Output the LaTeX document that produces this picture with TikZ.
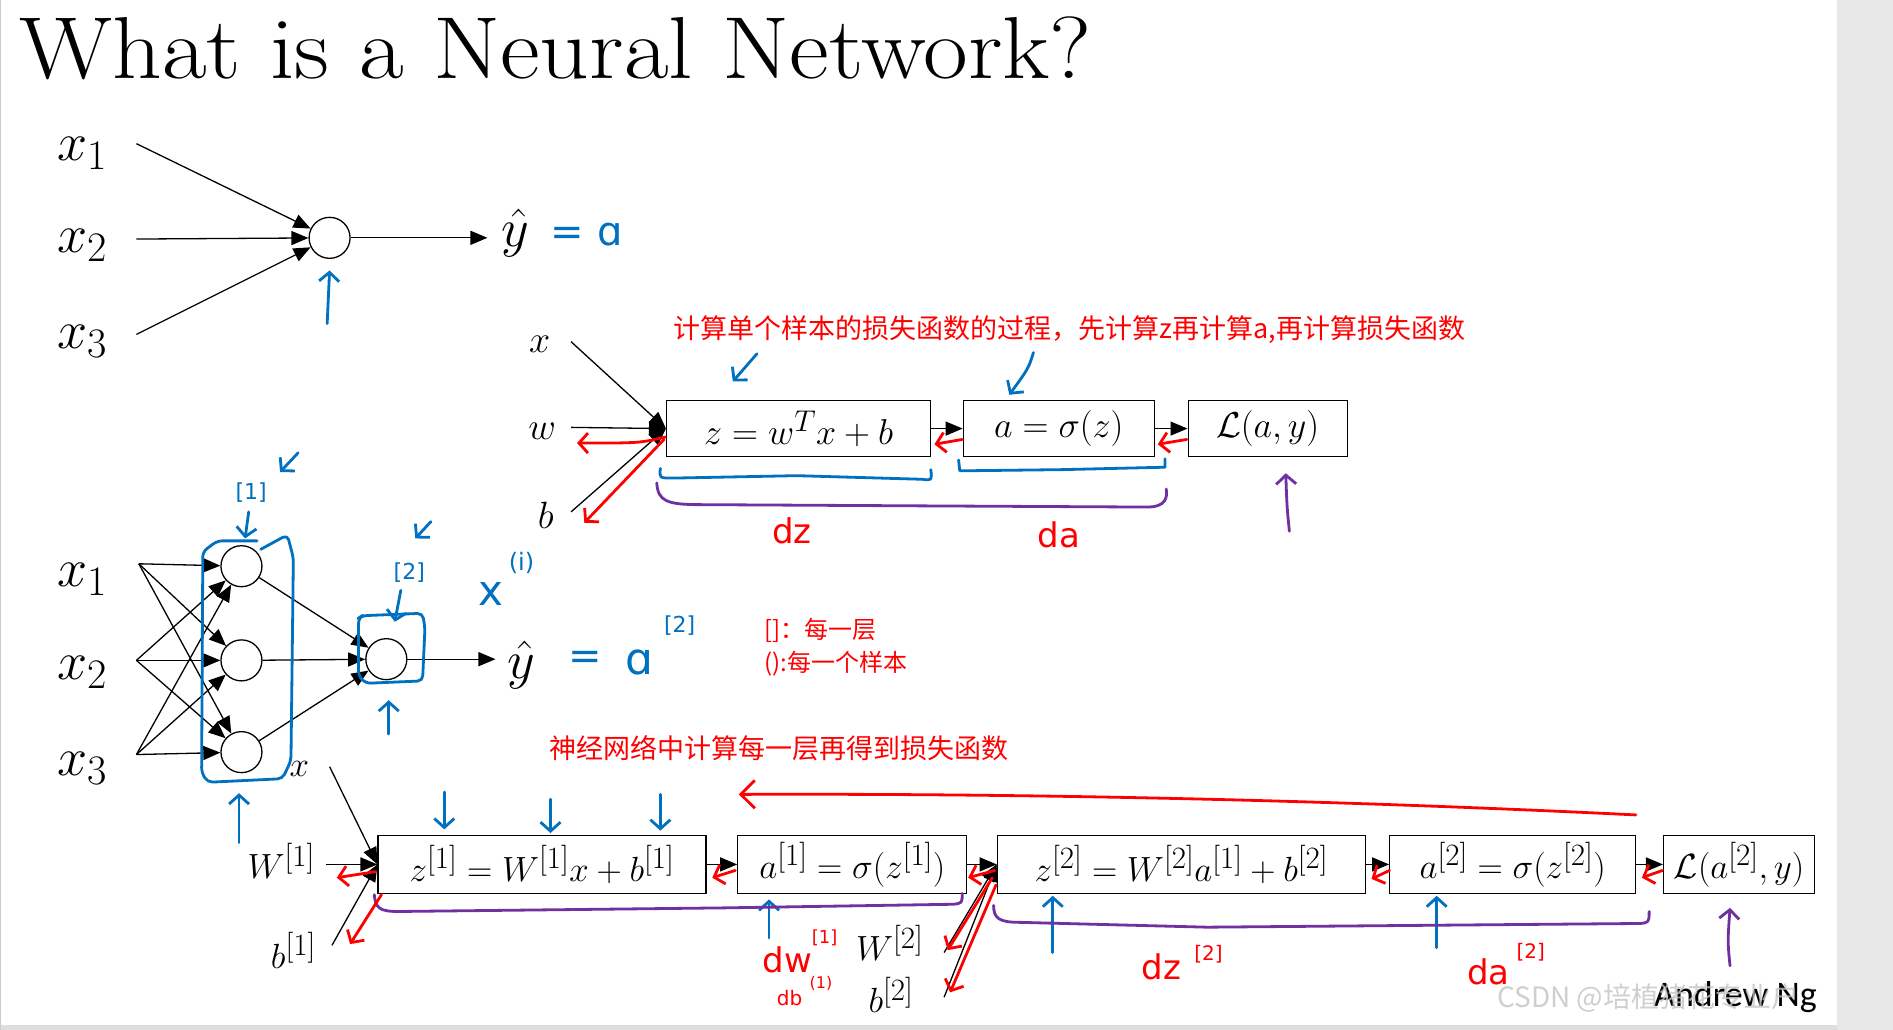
\RequirePackage{fix-cm}
\documentclass[tikz,border=0pt]{standalone}
\usepackage{amsmath}
\usepackage{graphicx}
\usepackage{fontspec}
\usetikzlibrary{arrows.meta}
\newfontfamily\cjk{Noto Sans CJK SC}
\newfontfamily\carl{Carlito}
\newfontfamily\hand{DejaVu Sans}
\definecolor{inkblue}{HTML}{0070C0}
\definecolor{inkred}{HTML}{FF0000}
\definecolor{inkpurple}{HTML}{7030A0}
\definecolor{wmgrey}{HTML}{C4C4C4}
\newcommand{\fsz}[1]{\fontsize{#1}{#1}\selectfont}
\newcommand{\lay}[1]{^{\mbox{\fsz{31}[#1]}}}
\newcommand{\sbx}[1]{_{\mbox{\fsz{42}#1}}}
\tikzset{
  neuron/.style={circle, draw, line width=1.3pt, minimum size=41pt, inner sep=0pt},
  fbox/.style={draw, line width=1.3pt, minimum height=56pt, inner sep=0pt, font=\fsz{36}},
  gbox/.style={draw, line width=1.3pt, minimum height=58pt, inner sep=0pt, font=\fsz{35}},
  arr/.style={-{Triangle[length=17pt,width=14pt]}, line width=1.3pt},
  ink/.style={line width=2.8pt, line cap=round, line join=round},
  hd/.style={-{Straight Barb[length=9pt,width=20pt]}},
  bighd/.style={-{Straight Barb[length=14pt,width=28pt]}},
  lab/.style={inner sep=0pt, font=\fsz{54}},
  slab/.style={inner sep=0pt, font=\fsz{38}},
  clab/.style={inner sep=0pt, font=\fsz{35}},
  redtxt/.style={inner sep=0pt, text=inkred, font=\cjk\fsz{27}},
  handb/.style={inner sep=0pt, text=inkblue, font=\hand\fsz{34}},
  handr/.style={inner sep=0pt, text=inkred, font=\hand\fsz{34}},
}
\begin{document}
\begin{tikzpicture}[x=1.2073pt, y=-1.2073pt]
\useasboundingbox (0,0) rectangle (1568,853);
\fill[white] (0,0) rectangle (1568,853);
% page margins
\fill[black!9] (1522,0) rectangle (1568,853);
\fill[black!13] (0,849) rectangle (1522,853);
\fill[black!20] (0,0) rectangle (1.2,853);

% title
\node[anchor=base west, inner sep=0pt, font=\fsz{88}] (title) at (16,65) {\scalebox{1.105}[1]{What is a Neural Network?}};

% ---------- top single neuron ----------
\node[lab] (tx1) at (68,127) {$x\sbx{1}$};
\node[lab] (tx2) at (68,203) {$x\sbx{2}$};
\node[lab] (tx3) at (68,283) {$x\sbx{3}$};
\coordinate (ts1) at (113,119);
\coordinate (ts2) at (113,198);
\coordinate (ts3) at (113,277);
\node[neuron] (tn) at (273,197) {};
\draw[arr] (ts1) -- (tn);
\draw[arr] (ts2) -- (tn);
\draw[arr] (ts3) -- (tn);
\node[lab] (tyhat) at (427,193) {$\hat{y}$};
\draw[arr, shorten >=14pt] (tn) -- (tyhat.west |- tn);
\node[handb, font=\hand\fsz{40}] (teq) at (486,194) {= ɑ};
\draw[ink, inkblue, hd] (271,268) -- (273,224);

% ---------- logistic regression chain ----------
\node[slab] (lx) at (447,285) {$x$};
\node[slab] (lw) at (449,357) {$w$};
\node[slab] (lb) at (452,427) {$b$};
\coordinate (lxs) at (473,283);
\coordinate (lws) at (473,354);
\coordinate (lbs) at (473,424);
\node[fbox, minimum width=264pt] (lz) at (661.5,355) {$z = w^{\mbox{\fsz{30}$T$}}x + b$};
\node[fbox, minimum width=191pt] (la) at (877,355) {$a = \sigma(z)$};
\node[fbox, minimum width=159pt] (lL) at (1050,355) {$\mathcal{L}(a,y)$};
\draw[arr] (lxs) -- (lz.west);
\draw[arr] (lws) -- (lz.west);
\draw[arr] (lbs) -- (lz.west);
\draw[arr] (lz) -- (la);
\draw[arr] (la) -- (lL);
\node[redtxt] (note1) at (886,273) {计算单个样本的损失函数的过程，先计算z再计算a,再计算损失函数};
% blue marks
\draw[ink, inkblue, hd] (627,293) -- (607,316);
\draw[ink, inkblue, hd] (856,292) .. controls (852,305) .. (836,327);
\draw[ink, inkblue] (547,388) .. controls (546,396) .. (558,396) -- (660,394) -- (764,397) .. controls (772,398) .. (771,389);
\draw[ink, inkblue] (794,381) -- (795,390) -- (880,389) -- (965,387) -- (965,380);
% purple brace
\draw[ink, inkpurple] (544,400) .. controls (545,415) and (552,418) .. (580,418) -- (760,419) -- (950,420) .. controls (966,420) and (967,412) .. (966,405);
\draw[ink, inkpurple, hd] (1068,440) .. controls (1066,420) .. (1065,392);
\node[handr] (ldz) at (656,440) {dz};
\node[handr] (lda) at (877,443) {da};
% red backward arrows
\draw[ink, inkred, hd] (551,362) .. controls (530,367) .. (478,367);
\draw[ink, inkred, hd] (550,364) -- (484,433);
\draw[ink, inkred, hd] (797,364) -- (774,368);
\draw[ink, inkred, hd] (983,364) -- (959,368);

% ---------- two layer network ----------
\node[lab] (bx1) at (68,480) {$x\sbx{1}$};
\node[lab] (bx2) at (68,557) {$x\sbx{2}$};
\node[lab] (bx3) at (68,637) {$x\sbx{3}$};
\coordinate (bs1) at (115,467);
\coordinate (bs2) at (113,547);
\coordinate (bs3) at (113,625);
\node[neuron] (h1) at (200,469) {};
\node[neuron] (h2) at (200,547) {};
\node[neuron] (h3) at (200,623) {};
\node[neuron] (on) at (320,546) {};
\foreach \s in {bs1,bs2,bs3}{
  \foreach \h in {h1,h2,h3}{
    \draw[arr] (\s) -- (\h);
  }
}
\foreach \h in {h1,h2,h3}{ \draw[arr] (\h) -- (on); }
\node[lab] (byhat) at (432,551) {$\hat{y}$};
\draw[arr, shorten >=12pt] (on) -- (byhat.west |- on);
\node[handb, font=\hand\fsz{40}] (beq) at (485,547) {=};
\node[handb, font=\hand\fsz{44}] (ba) at (530,549) {ɑ};
\node[handb, font=\hand\fsz{22}] (ba2) at (563,518) {[2]};
% blue boxes and marks
\draw[ink, inkblue, rounded corners=5pt] (213,448) -- (180,448) -- (168,457) -- (167,640) -- (172,648) -- (234,645) -- (241,630) -- (243,462) -- (238,443) -- (216,455);
\draw[ink, inkblue, rounded corners=5pt] (297,512) -- (297,560) -- (303,566) -- (350,564) -- (352,520) -- (350,508) -- (300,510) -- cycle;
\node[handb, font=\hand\fsz{22}] (l1) at (208,408) {[1]};
\draw[ink, inkblue, hd] (206,424) -- (203,446);
\draw[ink, inkblue, hd] (247,375) -- (232,391);
\node[handb, font=\hand\fsz{22}] (l2) at (339,474) {[2]};
\draw[ink, inkblue, hd] (357,432) -- (344,446);
\draw[ink, inkblue, hd] (332,489) -- (327,515);
\node[handb, font=\hand\fsz{42}] (bxi) at (407,492) {x};
\node[handb, font=\hand\fsz{24}] (bxi2) at (432,466) {(i)};
\draw[ink, inkblue, hd] (198,698) -- (198,657);
\draw[ink, inkblue, hd] (322,608) -- (322,580);
\node[redtxt, anchor=west, font=\cjk\fsz{24}] (n2) at (633,522) {[]：每一层};
\node[redtxt, anchor=west, font=\cjk\fsz{24}] (n3) at (633,550) {():每一个样本};
\node[redtxt] (n4) at (645,620) {神经网络中计算每一层再得到损失函数};
\draw[ink, inkred, bighd] (1355,675) .. controls (1150,665) and (900,657) .. (612,658);

% ---------- two layer chain ----------
\node[clab] (cx) at (248,637) {$x$};
\coordinate (cxs) at (273,635);
\node[clab] (cW1) at (233,713) {$W\lay{1}$};
\coordinate (cws) at (270,716);
\node[clab] (cb1) at (243,787) {$b\lay{1}$};
\coordinate (cbs) at (275,783);
\node[gbox, minimum width=328pt] (cA) at (449,716) {$z\lay{1} = W\lay{1}x + b\lay{1}$};
\node[gbox, minimum width=229pt] (cB) at (706,716) {$a\lay{1} = \sigma(z\lay{1})$};
\node[gbox, minimum width=368pt] (cC) at (978.5,716) {$z\lay{2} = W\lay{2}a\lay{1} + b\lay{2}$};
\node[gbox, minimum width=246pt] (cD) at (1253,716) {$a\lay{2} = \sigma(z\lay{2})$};
\node[gbox, minimum width=151pt] (cE) at (1440.5,716) {$\mathcal{L}(a\lay{2},y)$};
\draw[arr] (cxs) -- (cA.west);
\draw[arr] (cws) -- (cA.west);
\draw[arr] (cbs) -- (cA.west);
\draw[arr] (cA) -- (cB);
\draw[arr] (cB) -- (cC);
\draw[arr] (cC) -- (cD);
\draw[arr] (cD) -- (cE);
\node[clab] (cW2) at (737,781) {$W\lay{2}$};
\node[clab] (cb2) at (738,824) {$b\lay{2}$};
\coordinate (cw2s) at (782,789);
\coordinate (cb2s) at (782,826);
\draw[arr] (cw2s) -- (cC.west);
\draw[arr] (cb2s) -- (cC.west);
% blue arrows
\draw[ink, inkblue, hd] (368,656) -- (368,687);
\draw[ink, inkblue, hd] (456,662) -- (456,690);
\draw[ink, inkblue, hd] (547,658) -- (547,688);
\draw[ink, inkblue, hd] (637,777) -- (637,745);
\draw[ink, inkblue, hd] (872,789) -- (872,742);
\draw[ink, inkblue, hd] (1190,785) -- (1190,742);
\draw[ink, inkpurple, hd] (1433,800) .. controls (1431,780) .. (1433,752);
% purple braces
\draw[ink, inkpurple] (310,741) .. controls (311,752) and (314,755) .. (330,755) -- (600,752) -- (790,749) .. controls (797,748) .. (797,740);
\draw[ink, inkpurple] (823,750) .. controls (823,761) and (828,764) .. (845,764) -- (1000,768) -- (1350,765) .. controls (1366,765) .. (1366,755);
% red labels
\node[handr] (rdw) at (652,795) {dw};
\node[handr, font=\hand\fsz{18}] (rdw2) at (683,777) {[1]};
\node[handr, font=\hand\fsz{20}] (rdb) at (654,827) {db};
\node[handr, font=\hand\fsz{16}] (rdb2) at (680,815) {(1)};
\node[handr] (rdz) at (962,801) {dz};
\node[handr, font=\hand\fsz{20}] (rdz2) at (1001,790) {[2]};
\node[handr] (rda) at (1233,805) {da};
\node[handr, font=\hand\fsz{20}] (rda2) at (1268,789) {[2]};
% red backward arrows
\draw[ink, inkred, hd] (311,722) -- (279,727);
\draw[ink, inkred, hd] (316,741) -- (290,782);
\draw[ink, inkred, hd] (609,721) -- (590,727);
\draw[ink, inkred, hd] (824,721) -- (802,727);
\draw[ink, inkred, hd] (822,727) -- (785,787);
\draw[ink, inkred, hd] (825,733) -- (787,822);
\draw[ink, inkred, hd] (1151,721) -- (1136,728);
\draw[ink, inkred, hd] (1377,721) -- (1360,727);

% footer
\node[anchor=west, inner sep=0pt, font=\carl\fsz{36}] (ng) at (1370,826) {Andrew Ng};
\node[anchor=west, inner sep=0pt, text=wmgrey, opacity=0.8, font=\cjk\fsz{28}] (wm) at (1240,827) {CSDN @培植猪花专业户};
\end{tikzpicture}
\end{document}
